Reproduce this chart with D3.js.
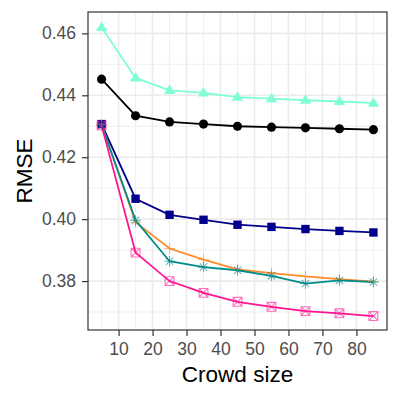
<!DOCTYPE html>
<html>
<head>
<meta charset="utf-8">
<script src="https://cdn.jsdelivr.net/npm/d3@7"></script>
<style>
  body { margin: 0; background: #fff; }
  text { font-family: "Liberation Sans", Arial, sans-serif; }
</style>
</head>
<body>
<svg id="chart" width="399" height="399"></svg>
<script>
// chart data
const crowdSize = [5, 15, 25, 35, 45, 55, 65, 75, 85];
const rmseAqua   = [0.4619, 0.4456, 0.4416, 0.4408, 0.4394, 0.4389, 0.4384, 0.4380, 0.4375];
const rmseBlack  = [0.4452, 0.4334, 0.4314, 0.4307, 0.4300, 0.4297, 0.4295, 0.4292, 0.4289];
const rmseNavy   = [0.4307, 0.4066, 0.4014, 0.3998, 0.3982, 0.3975, 0.3968, 0.3962, 0.3957];
const rmseOrange = [0.4305, 0.3990, 0.3905, 0.3869, 0.3838, 0.3826, 0.3815, 0.3806, 0.3798];
const rmseTeal   = [0.4304, 0.3996, 0.3864, 0.3845, 0.3835, 0.3817, 0.3792, 0.3802, 0.3797];
const rmsePink   = [0.4302, 0.3892, 0.3800, 0.3762, 0.3733, 0.3717, 0.3703, 0.3696, 0.3687];
const xTicks = [10, 20, 30, 40, 50, 60, 70, 80];
const xMinor = [5, 15, 25, 35, 45, 55, 65, 75, 85];
const yTicks = [0.38, 0.40, 0.42, 0.44, 0.46];
const yMinor = [0.37, 0.39, 0.41, 0.43, 0.45];

// layout
const margin = {top: 12, right: 12, bottom: 69, left: 88},
      width = 399, height = 399;

const series = [
  {values: rmseAqua,   color: "#7FFFD4", shape: "triangle", fill: true},
  {values: rmseBlack,  color: "#000000", shape: "circle",   fill: true},
  {values: rmseNavy,   color: "#00008B", shape: "square",   fill: true},
  {values: rmseOrange, color: "#FF8C2A", shape: "plus",     fill: false},
  {values: rmseTeal,   color: "#008B8B", shape: "asterisk", fill: false},
  {values: rmsePink,   color: "#FF1493", shape: "boxcross", fill: false}
];

const svg = d3.select("#chart");

const x = d3.scaleLinear()
    .domain([1, 89])
    .range([margin.left, width - margin.right]);
const y = d3.scaleLinear()
    .domain([0.3642, 0.4669])
    .range([height - margin.bottom, margin.top]);

// grid
const grid = svg.append("g");
grid.selectAll(".minor-x").data(xMinor).join("line")
    .attr("x1", d => x(d)).attr("x2", d => x(d))
    .attr("y1", margin.top).attr("y2", height - margin.bottom)
    .attr("stroke", "#EBEBEB").attr("stroke-width", 0.8);
grid.selectAll(".minor-y").data(yMinor).join("line")
    .attr("y1", d => y(d)).attr("y2", d => y(d))
    .attr("x1", margin.left).attr("x2", width - margin.right)
    .attr("stroke", "#EBEBEB").attr("stroke-width", 0.8);
grid.selectAll(".major-x").data(xTicks).join("line")
    .attr("x1", d => x(d)).attr("x2", d => x(d))
    .attr("y1", margin.top).attr("y2", height - margin.bottom)
    .attr("stroke", "#EBEBEB").attr("stroke-width", 1.6);
grid.selectAll(".major-y").data(yTicks).join("line")
    .attr("y1", d => y(d)).attr("y2", d => y(d))
    .attr("x1", margin.left).attr("x2", width - margin.right)
    .attr("stroke", "#EBEBEB").attr("stroke-width", 1.6);

// lines
const line = d3.line()
    .x((d, i) => x(crowdSize[i]))
    .y(d => y(d));
svg.append("g").selectAll("path").data(series).join("path")
    .attr("d", s => line(s.values))
    .attr("fill", "none")
    .attr("stroke", d => d.color)
    .attr("stroke-width", 1.8);

/**
 * Returns a path string for a marker centered at 0,0
 * @param {string} shape
 */
function markerPath(shape) {
  const r = 4.4;
  switch (shape) {
    case "circle": return d3.symbol(d3.symbolCircle, 66)();
    case "square": return `M-4.2,-4.2H4.2V4.2H-4.2Z`;
    case "triangle": return `M0,-6L5.6,3.6L-5.6,3.6Z`;
    case "plus": return `M-${r+1},0H${r+1}M0,-${r+1}V${r+1}`;
    case "asterisk": {
      const a = r + 0.8, b = a * 0.707;
      return `M-${a},0H${a}M0,-${a}V${a}M-${b},-${b}L${b},${b}M-${b},${b}L${b},-${b}`;
    }
    case "boxcross":
      return `M-${r},-${r}H${r}V${r}H-${r}ZM-${r},-${r}L${r},${r}M-${r},${r}L${r},-${r}`;
  }
}

// points
const pts = svg.append("g");
series.forEach(s => {
  pts.append("g").selectAll("path").data(s.values).join("path")
      .attr("transform", (d, i) => `translate(${x(crowdSize[i])},${y(d)})`)
      .attr("d", markerPath(s.shape))
      .attr("fill", s.fill ? s.color : "none")
      .attr("stroke", s.fill ? "none" : s.color)
      .attr("stroke-opacity", s.fill ? 1 : 0.6)
      .attr("stroke-width", 1.1);
});

// panel border
svg.append("rect")
    .attr("x", margin.left).attr("y", margin.top)
    .attr("width", width - margin.left - margin.right)
    .attr("height", height - margin.top - margin.bottom)
    .attr("fill", "none").attr("stroke", "#333333").attr("stroke-width", 1.2);

// axes
const xAxis = svg.append("g")
    .attr("transform", `translate(0,${height - margin.bottom})`)
    .call(d3.axisBottom(x).tickValues(xTicks).tickSize(6).tickPadding(7));
const yAxis = svg.append("g")
    .attr("transform", `translate(${margin.left},0)`)
    .call(d3.axisLeft(y).tickValues(yTicks).tickFormat(d3.format(".2f")).tickSize(6).tickPadding(6));
[xAxis, yAxis].forEach(a => {
  a.select(".domain").remove();
  a.selectAll(".tick line").attr("stroke", "#333333").attr("stroke-width", 1.2);
  a.selectAll(".tick text").attr("fill", "#4D4D4D").style("font-size", "17.5px");
});

// axis titles
svg.append("text")
    .attr("x", (margin.left + width - margin.right) / 2)
    .attr("y", 382)
    .attr("text-anchor", "middle")
    .style("font-size", "22.5px")
    .text("Crowd size");
svg.append("text")
    .attr("transform", `translate(32,${(margin.top + height - margin.bottom) / 2}) rotate(-90)`)
    .attr("text-anchor", "middle")
    .style("font-size", "22.5px")
    .text("RMSE");
</script>
</body>
</html>
